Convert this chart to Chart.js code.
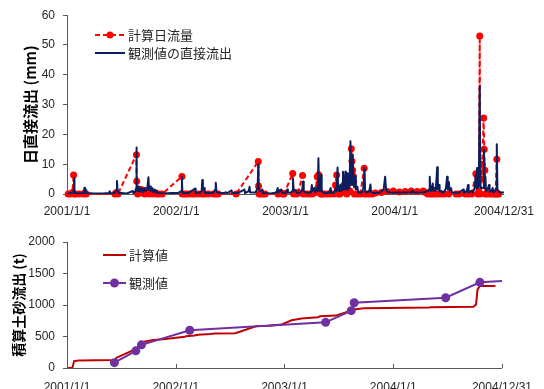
<!DOCTYPE html>
<html><head><meta charset="utf-8">
<script src="https://cdn.jsdelivr.net/npm/chart.js@4.4.1/dist/chart.umd.min.js"></script>
<style>
html,body{margin:0;padding:0;background:#fff;}
#wrap{position:relative;width:544px;height:389px;overflow:hidden;background:#fff;}
canvas{position:absolute;left:0;}
#topChart{top:0;}
#bottomChart{top:220px;}
</style></head><body>
<div id="wrap">
<canvas id="topChart" width="544" height="220"></canvas>
<canvas id="bottomChart" width="544" height="169"></canvas>
</div>
<script>
// x values are days counted from 2001/1/1
const tickDays = [0, 365, 730, 1095, 1460];
const tickLabels = ['2001/1/1', '2002/1/1', '2003/1/1', '2004/1/1', '2004/12/31'];

const dailyNames = ['計算日流量', '観測値の直接流出'];
const sedimentNames = ['計算値', '観測値'];
const dailyTitle = '日直接流出 (mm)';
const sedimentTitle = '積算土砂流出 (t)';

// computed daily runoff (mm): [day, value]
const calcDaily = [
  [4,0],[12,0],[18,0.5],[22,6.4],[24,0],[28,0],[40,0],[55,0],[60,0.3],[64,0],
  [160,0],[165,0.5],[170,0],[232,13.2],[233,4.3],[236,0],[240,1.2],[244,0.5],[248,1.5],
  [252,0.3],[256,1],[260,0],[264,1.2],[268,0.3],[272,0.5],[276,0],[282,0.5],[288,0],
  [294,0.5],[300,0],[307,0],[318,0],[384,5.9],[385,0],[392,0],[400,0],[410,0],[420,0],
  [428,0],[440,0],[452,0],[460,0],[472,0],[490,0],[497,0],[505,0],[565,0],[639,10.9],
  [640,2.7],[642,0],[648,0],[655,0],[662,0],[705,0],[714,0.5],[720,0],[725,0],[754,6.9],
  [757,0],[768,0],[772,0.5],[787,6.2],[789,0],[800,0],[810,0],[820,0],[830,0.5],[836,5.8],
  [838,2],[841,6.5],[843,1],[848,0],[852,0],[860,0],[870,0],[880,0],[892,0],[897,3],
  [901,6.4],[903,1],[907,0],[912,0],[920,2],[925,3],[930,0.5],[935,0],[945,1],[950,15.2],
  [952,11],[954,8],[956,6],[958,4],[960,0],[970,0],[980,0],[993,8.6],[995,0],[1000,0],
  [1010,0],[1020,0],[1030,0.3],[1050,0.5],[1070,0.8],[1090,1],[1110,0.7],[1130,0.8],
  [1150,1],[1170,0.8],[1190,1],[1198,0.5],[1205,0],[1215,0],[1222,0],[1230,0],[1240,0],
  [1250,0],[1260,0],[1275,0],[1300,0],[1310,0],[1330,0],[1340,0],[1352,0],[1366,6.8],
  [1369,3],[1373,0],[1376,1],[1379,53],[1381,0],[1385,5],[1388,10],[1392,25.5],[1394,15],
  [1396,8],[1398,0],[1402,0],[1410,0],[1420,0],[1428,0],[1432,0],[1436,11.7],[1438,0],[1442,0]
];

// observed direct runoff (mm): [day, value]
const obsDirect = [
  [0,0],[10,0.3],[20,0.5],[23,1.5],[24,5.3],[25,1],[27,0.3],[40,0.2],[56,0.3],[58,2.1],
  [60,0.5],[63,1.5],[65,0.3],[90,0.2],[120,0.2],[140,0.3],[143,0.9],[145,0.2],[160,0.3],
  [164,1.2],[167,4.4],[169,1],[172,0.4],[200,0.2],[220,1],[222,0.3],[228,0.8],[231,2],
  [232,15.6],[233,3],[236,1],[238,2.5],[240,0.8],[243,2.2],[245,1],[250,1.8],[253,0.7],
  [258,2],[262,1],[268,1.5],[272,5.6],[274,1.5],[278,2.5],[280,1],[285,2],[288,0.6],
  [292,1.5],[296,0.5],[300,1],[305,0.3],[320,0.2],[350,0.3],[370,0.3],[382,1],[384,5.8],
  [385,1],[388,0.3],[405,0.3],[428,1.8],[430,0.4],[445,0.5],[450,1],[452,4.7],[454,1.5],
  [458,2],[460,0.4],[475,0.3],[490,0.5],[495,1.5],[497,3.8],[499,1.2],[503,0.4],[525,0.3],
  [531,0.6],[535,0.2],[550,1.2],[552,0.3],[570,0.3],[593,1.5],[595,0.3],[607,1],[610,2.4],
  [612,0.5],[630,0.5],[637,2],[639,9.8],[640,2],[645,1],[653,1.5],[655,0.3],[680,0.2],
  [700,0.5],[704,2],[706,0.5],[715,1.5],[718,0.4],[730,0.3],[736,1.5],[738,0.4],[748,0.5],
  [752,1],[755,5],[757,1],[760,1.5],[765,1],[768,0.3],[780,0.5],[786,1.5],[789,4.2],
  [791,1],[800,0.4],[815,0.5],[818,3],[820,1],[826,2],[830,0.6],[834,2],[838,1],[840,12],
  [842,2],[846,1],[849,6.4],[851,1],[856,0.5],[865,0.3],[875,0.4],[881,2],[883,0.3],
  [893,0.5],[898,2],[901,1],[904,8.9],[906,1.5],[910,1],[913,3],[915,1],[919,1.5],
  [922,7.5],[924,2],[927,1.5],[930,7.5],[932,2],[936,1.5],[938,7],[940,2],[944,2],
  [947,17.7],[949,4],[952,3],[955,13.2],[957,3],[960,2.5],[963,6],[965,1.5],[970,2.5],
  [973,0.5],[985,0.5],[990,2],[994,8.7],[996,1],[1000,0.5],[1010,1],[1014,3.2],[1016,0.6],
  [1025,0.3],[1040,0.4],[1050,0.8],[1058,1.5],[1063,5.8],[1066,1.5],[1070,0.8],[1080,0.5],
  [1090,0.4],[1110,0.5],[1130,0.5],[1150,0.6],[1154,1],[1156,0.5],[1175,0.5],[1195,0.6],
  [1205,1],[1210,1.5],[1212,5.8],[1214,1],[1218,1.5],[1222,3.5],[1224,1],[1228,2],[1232,1],
  [1237,9],[1239,1.5],[1243,3],[1245,0.8],[1250,1],[1256,0.4],[1262,1],[1266,2],[1270,5.8],
  [1272,1.5],[1276,4],[1278,1.2],[1283,2],[1286,0.5],[1300,0.4],[1310,0.5],[1324,1.5],
  [1326,0.4],[1336,1],[1340,3],[1342,0.5],[1350,1],[1356,0.5],[1362,2],[1366,6.4],[1368,2],
  [1370,8.7],[1372,2],[1376,3],[1379,36.2],[1381,3],[1384,2],[1391,2],[1393,15],[1395,2],
  [1398,5.8],[1400,1],[1405,1.5],[1410,3],[1412,0.8],[1418,1],[1422,2],[1425,0.5],[1430,1],
  [1434,2],[1436,16.7],[1438,1.5],[1442,1],[1446,0.5],[1460,0.5]
];

// cumulative sediment discharge (t): [day, value]
const calcSediment = [
  [0,0],[18,0],[24,110],[40,118],[100,122],[162,125],[165,160],[230,300],[252,390],
  [262,420],[290,445],[330,460],[395,495],[400,505],[428,517],[440,528],[482,540],
  [494,549],[565,552],[637,667],[677,672],[720,690],[725,700],[754,757],[787,784],
  [842,805],[850,821],[902,832],[930,875],[963,928],[996,949],[1216,960],[1220,965],
  [1364,971],[1373,1008],[1378,1248],[1386,1301],[1438,1301]
];
const obsSediment = [
  [159,85],[231,272],[250,368],[412,600],[868,725],[954,910],[964,1035],[1271,1115],
  [1386,1360],[1460,1380]
];

const toXY = arr => arr.map(([x, y]) => ({x, y}));

const AXIS = '#595959';
const TEXT = '#262626';
const JP = '"Noto Sans CJK JP", "Noto Sans", sans-serif';
Chart.defaults.font.family = '"Liberation Sans", Arial, sans-serif';
Chart.defaults.font.size = 12;
Chart.defaults.color = TEXT;

function xAxis(height, pad) {
  return {
    type: 'linear', min: 0, max: 1460,
    grid: {display: false, drawTicks: false},
    border: {display: true, color: AXIS, width: 1},
    afterBuildTicks: s => { s.ticks = tickDays.map(v => ({value: v})); },
    afterFit: s => { s.height = height; },
    ticks: {
      autoSkip: false, maxRotation: 0, padding: pad, color: TEXT,
      callback: v => tickLabels[tickDays.indexOf(v)]
    }
  };
}
function yAxis(max, step, title, titleSize, titlePad) {
  return {
    min: 0, max: max,
    grid: {drawOnChartArea: false, drawTicks: true, tickLength: 4, color: AXIS},
    border: {display: true, color: AXIS, width: 1},
    afterFit: s => { s.width = 67; },
    ticks: {stepSize: step, padding: 8, color: TEXT, callback: v => String(v)},
    title: {display: true, text: title, color: '#000',
      font: {family: JP, size: titleSize, weight: 'bold'},
      padding: {top: titlePad, bottom: 0}}
  };
}

// short upward tick marks on the date axis
const innerTicks = {
  id: 'innerTicks',
  afterDraw(chart) {
    const {ctx, scales: {x}, chartArea} = chart;
    ctx.save();
    ctx.strokeStyle = AXIS; ctx.lineWidth = 1;
    tickDays.forEach(d => {
      const px = Math.round(x.getPixelForValue(d)) + 0.5;
      ctx.beginPath();
      ctx.moveTo(px, chartArea.bottom);
      ctx.lineTo(px, chartArea.bottom - 4);
      ctx.stroke();
    });
    ctx.restore();
  }
};

function legendPlugin(items) {
  return {
    id: 'boxLegend',
    afterDraw(chart) {
      const ctx = chart.ctx;
      ctx.save();
      items.forEach(it => {
        ctx.strokeStyle = it.color; ctx.lineWidth = 2;
        ctx.setLineDash(it.dash || []);
        ctx.beginPath(); ctx.moveTo(it.x0, it.y); ctx.lineTo(it.x1, it.y); ctx.stroke();
        ctx.setLineDash([]);
        if (it.marker) {
          ctx.fillStyle = it.color;
          ctx.beginPath(); ctx.arc((it.x0 + it.x1) / 2, it.y, it.marker, 0, Math.PI * 2); ctx.fill();
        }
        ctx.fillStyle = TEXT;
        ctx.font = '13px ' + JP;
        ctx.textBaseline = 'middle';
        ctx.textAlign = 'left';
        ctx.fillText(it.text, it.x1 + 3, it.y);
      });
      ctx.restore();
    }
  };
}

const RED = '#FF0000';
const NAVY = '#0B1F5E';
const DARKRED = '#C00000';
const PURPLE = '#7030A0';

new Chart(document.getElementById('topChart'), {
  type: 'line',
  data: {
    datasets: [
      {label: dailyNames[0], data: toXY(calcDaily), borderColor: RED, backgroundColor: RED,
       borderWidth: 2, borderDash: [5, 3], pointRadius: 3.5, pointBorderWidth: 0,
       pointBackgroundColor: RED, order: 1, clip: false, borderJoinStyle: 'round'},
      {label: dailyNames[1], data: toXY(obsDirect), borderColor: NAVY, backgroundColor: NAVY,
       borderWidth: 2, pointRadius: 0, order: 0, borderJoinStyle: 'round'}
    ]
  },
  options: {
    responsive: false, animation: false, devicePixelRatio: 1,
    layout: {padding: {top: 15, right: 35, left: 0, bottom: 0}},
    elements: {line: {tension: 0}},
    plugins: {legend: {display: false}, tooltip: {enabled: false}},
    scales: {
      x: xAxis(26, 10),
      y: yAxis(60, 10, dailyTitle, 15, 21)
    }
  },
  plugins: [legendPlugin([
    {text: dailyNames[0], color: RED, dash: [5, 3], marker: 3.5, x0: 95, x1: 125, y: 35},
    {text: dailyNames[1], color: NAVY, x0: 95, x1: 125, y: 53}
  ])]
});

new Chart(document.getElementById('bottomChart'), {
  type: 'line',
  data: {
    datasets: [
      {label: sedimentNames[0], data: toXY(calcSediment), borderColor: DARKRED,
       borderWidth: 2, pointRadius: 0, order: 1},
      {label: sedimentNames[1], data: toXY(obsSediment), borderColor: PURPLE,
       backgroundColor: PURPLE, borderWidth: 2,
       pointRadius: obsSediment.map((p, i) => i === obsSediment.length - 1 ? 0 : 4.5),
       pointBorderWidth: 0, pointBackgroundColor: PURPLE, order: 0, clip: false}
    ]
  },
  options: {
    responsive: false, animation: false, devicePixelRatio: 1,
    layout: {padding: {top: 22, right: 35, left: 0, bottom: 0}},
    elements: {line: {tension: 0}},
    plugins: {legend: {display: false}, tooltip: {enabled: false}},
    scales: {
      x: xAxis(21, 12),
      y: yAxis(2000, 500, sedimentTitle, 14, 10)
    }
  },
  plugins: [innerTicks, legendPlugin([
    {text: sedimentNames[0], color: DARKRED, x0: 103, x1: 126, y: 35},
    {text: sedimentNames[1], color: PURPLE, marker: 4.5, x0: 103, x1: 126, y: 63}
  ])]
});
</script>
</body></html>
